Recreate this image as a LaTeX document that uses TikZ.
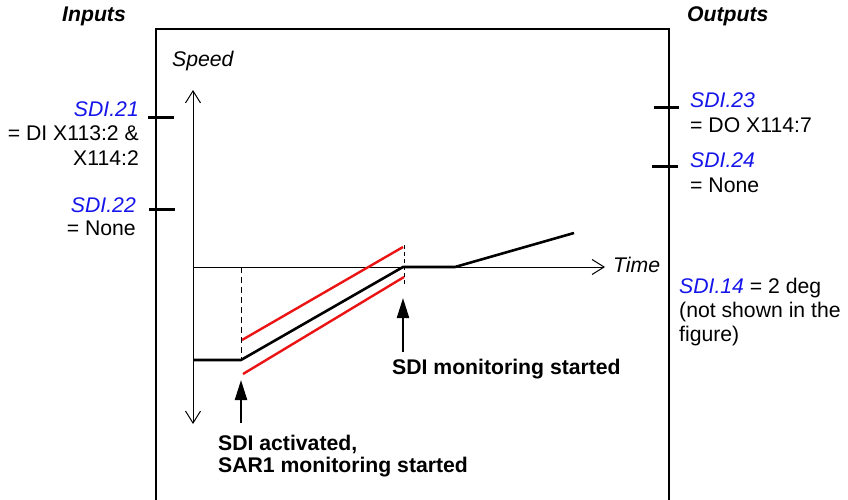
\documentclass[tikz,border=0pt]{standalone}
\usepackage{fontspec}
\setmainfont{Liberation Sans}
\usetikzlibrary{arrows.meta}
\definecolor{sdiblue}{RGB}{20,20,235}
\definecolor{limred}{RGB}{235,20,20}
\tikzset{
  txt/.style={inner sep=0pt,font=\fontsize{21.2}{25}\selectfont},
  bhead/.style={txt,font=\fontsize{21.2}{25}\selectfont\bfseries\itshape},
  btxt/.style={txt,font=\fontsize{21.2}{25}\selectfont\bfseries},
  par/.style={text=sdiblue,font=\fontsize{21.2}{25}\selectfont\itshape},
  tick/.style={line width=3pt},
  axis/.style={line width=1pt},
  speedline/.style={line width=2.6pt},
  limit/.style={line width=2.4pt,limred},
  guide/.style={line width=0.9pt,dash pattern=on 6pt off 4pt},
  event/.style={line width=2.2pt,-{Triangle[length=20pt,width=12pt]}}
}
\begin{document}
\begin{tikzpicture}[x=1pt,y=-1pt]
\useasboundingbox (0,0) rectangle (848,500);
\clip (0,0) rectangle (848,500);
% frame
\draw[line width=1.5pt] (156,520) -- (156,29) -- (669,29) -- (669,520);
% headings
\node[bhead,anchor=base west] (inputs) at (62,22) {Inputs};
\node[bhead,anchor=base west] (outputs) at (687,22) {Outputs};
% axes
\coordinate (origin) at (193,267);
\coordinate (ytop) at (193,90);
\coordinate (ybot) at (193,424);
\coordinate (xend) at (605,267);
\draw[axis,{Straight Barb[length=12pt,width=15pt,line width=1pt]}-{Straight Barb[length=12pt,width=15pt,line width=1pt]}] (ytop) -- (ybot);
\draw[axis,-{Straight Barb[length=12pt,width=15pt,line width=1pt]}] (origin) -- (xend);
\node[txt,anchor=base west,font=\fontsize{21.2}{25}\selectfont\itshape] (speed) at (172,67) {Speed};
\node[txt,anchor=base west,font=\fontsize{21.2}{25}\selectfont\itshape] (time) at (613,272) {Time};
% input ticks and labels
\coordinate (t21a) at (148,118); \coordinate (t21b) at (174,118);
\coordinate (t22a) at (149,209); \coordinate (t22b) at (175,209);
\draw[tick] (t21a) -- (t21b);
\draw[tick] (t22a) -- (t22b);
\node[txt,par,anchor=base east] (sdi21) at (139,117) {SDI.21};
\node[txt,anchor=base east] (sdi21a) at (139,140) {= DI X113:2 \&};
\node[txt,anchor=base east] (sdi21b) at (139,165) {X114:2};
\node[txt,par,anchor=base east] (sdi22) at (136,212) {SDI.22};
\node[txt,anchor=base east] (sdi22a) at (136,235) {= None};
% output ticks and labels
\coordinate (t23a) at (654,108); \coordinate (t23b) at (679,108);
\coordinate (t24a) at (652,166); \coordinate (t24b) at (678,166);
\draw[tick] (t23a) -- (t23b);
\draw[tick] (t24a) -- (t24b);
\node[txt,par,anchor=base west] (sdi23) at (690,108) {SDI.23};
\node[txt,anchor=base west] (sdi23a) at (690,132) {= DO X114:7};
\node[txt,par,anchor=base west] (sdi24) at (690,167) {SDI.24};
\node[txt,anchor=base west] (sdi24a) at (690,192) {= None};
\node[txt,anchor=base west] (sdi14) at (679,293) {\textcolor{sdiblue}{\itshape SDI.14} = 2 deg};
\node[txt,anchor=base west] (sdi14a) at (679,317) {(not shown in the};
\node[txt,anchor=base west] (sdi14b) at (679,341) {figure)};
% speed profile
\coordinate (p0) at (193,360);
\coordinate (p1) at (241,360);
\coordinate (p2) at (403,267);
\coordinate (p3) at (455,267);
\coordinate (p4) at (574,233);
\draw[speedline,line join=round] (p0) -- (p1) -- (p2) -- (p3) -- (p4);
% limits
\coordinate (u1) at (242,340); \coordinate (u2) at (403,247);
\coordinate (l1) at (243,374); \coordinate (l2) at (404,277);
\draw[limit] (u1) -- (u2);
\draw[limit] (l1) -- (l2);
% guides
\coordinate (g1a) at (241,267); \coordinate (g1b) at (241,360);
\coordinate (g2a) at (404,245); \coordinate (g2b) at (404,284);
\draw[guide] (g1a) -- (g1b);
\draw[line width=0.9pt,dash pattern=on 4pt off 3pt] (g2a) -- (g2b);
% events
\coordinate (e1tail) at (241,423); \coordinate (e1tip) at (241,380);
\coordinate (e2tail) at (403,352); \coordinate (e2tip) at (403,298);
\draw[event] (e1tail) -- (e1tip);
\draw[event] (e2tail) -- (e2tip);
\node[btxt,anchor=base west] (mon) at (392,374) {SDI monitoring started};
\node[btxt,anchor=base west] (act) at (218,450) {SDI activated,};
\node[btxt,anchor=base west] (sar) at (218,472) {SAR1 monitoring started};
\end{tikzpicture}
\end{document}
